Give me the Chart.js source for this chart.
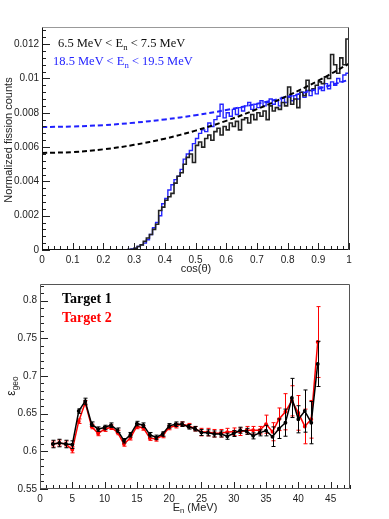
<!DOCTYPE html>
<html lang="en">
<head>
  <meta charset="UTF-8">
  <title>Fission angular distribution and geometric efficiency</title>
  <script src="https://cdn.jsdelivr.net/npm/chart.js"></script>
  <style>
    body {
      margin: 0;
      background: #fff;
      width: 389px;
      height: 519px;
      position: relative;
      overflow: hidden;
      font-family: 'Liberation Sans', Arial, sans-serif;
      color: #222;
    }
    .box { position: absolute; left: 0; width: 389px; }
    #topBox { top: 0; height: 275px; }
    #botBox { top: 275px; height: 244px; }
    .lbl { position: absolute; white-space: nowrap; line-height: 1; }
    .serif { font-family: 'Liberation Serif', 'Times New Roman', serif; }
    .rot { transform: translate(-50%, -50%) rotate(-90deg); }
    .ctr { transform: translate(-50%, -50%); }
    sub { font-size: 70%; vertical-align: -0.3em; line-height: 0; }
  </style>
</head>
<body>
  <div class="box" id="topBox"><canvas id="angleChart"></canvas></div>
  <div class="box" id="botBox"><canvas id="effChart"></canvas></div>

  <div class="lbl rot" style="left:8px; top:140px; font-size:11px;">Normalized fission counts</div>
  <div class="lbl ctr" style="left:196px; top:268px; font-size:11px;">cos(&theta;)</div>
  <div class="lbl serif" style="left:58px; top:37px; font-size:12.5px; color:#111;">6.5 MeV &lt; E<sub>n</sub> &lt; 7.5 MeV</div>
  <div class="lbl serif" style="left:53px; top:55px; font-size:12.5px; color:#2525ff;">18.5 MeV &lt; E<sub>n</sub> &lt; 19.5 MeV</div>

  <div class="lbl rot" style="left:11px; top:386px; font-size:12px;">&epsilon;<sub>geo</sub></div>
  <div class="lbl ctr" style="left:195px; top:507px; font-size:11px;">E<sub>n</sub> (MeV)</div>
  <div class="lbl serif" style="left:62px; top:292px; font-size:14px; font-weight:bold; color:#000;">Target 1</div>
  <div class="lbl serif" style="left:62px; top:311px; font-size:14px; font-weight:bold; color:#ff0000;">Target 2</div>

  <script>
    // ---- top panel: cos(theta) histograms, 100 bins of 0.01 ----
    const cosBinWidth = 0.01;
    const countsLowE = [
      0, 0, 0, 0, 0, 0, 0, 0, 0, 0,
      0, 0, 0, 0, 0, 0, 0, 0, 0, 0,
      0, 0, 0, 0, 0, 0, 0, 0, 0.00002, 0.00004,
      0.0001, 0.0002, 0.0003, 0.0005, 0.0007, 0.0009, 0.0012, 0.0015, 0.0023, 0.0025,
      0.0029, 0.0031, 0.0033, 0.0039, 0.0043, 0.0045, 0.0050, 0.0054, 0.0056, 0.0051,
      0.0061, 0.0063, 0.0060, 0.0065, 0.0067, 0.0064, 0.0069, 0.0071, 0.0067, 0.0072,
      0.0070, 0.0074, 0.0072, 0.0075, 0.0070, 0.0076, 0.0077, 0.0074, 0.0079, 0.0076,
      0.0080, 0.0078, 0.0081, 0.0076, 0.0084, 0.0081, 0.0083, 0.0082, 0.0086, 0.0084,
      0.0095, 0.0085, 0.0088, 0.0083, 0.0092, 0.0090, 0.0099, 0.0093, 0.0094, 0.0096,
      0.0098, 0.0097, 0.0101, 0.0100, 0.0114, 0.0108, 0.0103, 0.0112, 0.0108, 0.0123
    ];
    const countsHighE = [
      0, 0, 0, 0, 0, 0, 0, 0, 0, 0,
      0, 0, 0, 0, 0, 0, 0, 0, 0, 0,
      0, 0, 0, 0, 0, 0, 0, 0, 0.00003, 0.00006,
      0.0001, 0.0002, 0.0003, 0.0004, 0.0006, 0.0009, 0.0013, 0.0016, 0.0020, 0.0027,
      0.0030, 0.0035, 0.0038, 0.0041, 0.0043, 0.0047, 0.0053, 0.0056, 0.0058, 0.0062,
      0.0065, 0.0068, 0.0070, 0.0069, 0.0074, 0.0072, 0.0076, 0.0078, 0.0085, 0.0077,
      0.0080, 0.0078, 0.0082, 0.0079, 0.0083, 0.0081, 0.0084, 0.0086, 0.0082, 0.0085,
      0.0083, 0.0087, 0.0084, 0.0086, 0.0088, 0.0085, 0.0087, 0.0084, 0.0089, 0.0086,
      0.0089, 0.0087, 0.0090, 0.0088, 0.0092, 0.0089, 0.0093, 0.0090, 0.0094, 0.0091,
      0.0095, 0.0093, 0.0097, 0.0094, 0.0098, 0.0096, 0.0100, 0.0098, 0.0102, 0.0103
    ];
    // dashed fit curves, read at these cos(theta) values
    const fitCos = [0, 0.1, 0.2, 0.3, 0.4, 0.5, 0.6, 0.7, 0.8, 0.9, 1.0];
    const fitLowE = [0.00566, 0.00571, 0.00587, 0.00613, 0.00649, 0.00696, 0.00753, 0.00821, 0.00899, 0.00987, 0.01086];
    const fitHighE = [0.00717, 0.00720, 0.00728, 0.00742, 0.00761, 0.00786, 0.00816, 0.00852, 0.00893, 0.00940, 0.00992];
    const angleXTicks = [0, 0.1, 0.2, 0.3, 0.4, 0.5, 0.6, 0.7, 0.8, 0.9, 1];
    const angleYTicks = [0, 0.002, 0.004, 0.006, 0.008, 0.01, 0.012];

    // ---- bottom panel: geometric efficiency vs neutron energy ----
    const energies = [2, 3, 4, 5, 6, 7, 8, 9, 10, 11, 12, 13, 14, 15, 16, 17, 18, 19, 20, 21, 22,
                      23, 24, 25, 26, 27, 28, 29, 30, 31, 32, 33, 34, 35, 36, 37, 38, 39, 40, 41, 42, 43];
    const effTarget1 = [0.6097, 0.611, 0.6097, 0.6089, 0.6534, 0.6665, 0.636, 0.6294, 0.6316, 0.6347, 0.628,
                        0.614, 0.622, 0.6368, 0.6347, 0.622, 0.6185, 0.623, 0.6338, 0.636, 0.636,
                        0.6325, 0.630, 0.625, 0.6245, 0.623, 0.623, 0.620, 0.6237, 0.628, 0.6265,
                        0.6205, 0.6245, 0.6275, 0.6194, 0.630, 0.638, 0.6708, 0.6425, 0.6534, 0.638, 0.716];
    const errTarget1 = [0.005, 0.005, 0.005, 0.005, 0.003, 0.004, 0.003, 0.003, 0.003, 0.003, 0.003,
                        0.003, 0.003, 0.003, 0.003, 0.003, 0.003, 0.003, 0.003, 0.003, 0.003,
                        0.003, 0.003, 0.004, 0.004, 0.004, 0.004, 0.004, 0.004, 0.004, 0.004,
                        0.004, 0.004, 0.007, 0.013, 0.013, 0.018, 0.026, 0.018, 0.028, 0.028, 0.030];
    const effTarget2 = [0.6097, 0.611, 0.6097, 0.602, 0.640, 0.6643, 0.6329, 0.6237, 0.6294, 0.632, 0.625,
                        0.6098, 0.618, 0.633, 0.631, 0.6175, 0.6165, 0.621, 0.6316, 0.634, 0.636,
                        0.634, 0.630, 0.6255, 0.6255, 0.624, 0.624, 0.6255, 0.626, 0.626, 0.628,
                        0.628, 0.628, 0.636, 0.626, 0.6425, 0.6525, 0.667, 0.651, 0.633, 0.6425, 0.745];
    const errTarget2 = [0.004, 0.004, 0.004, 0.004, 0.003, 0.003, 0.003, 0.003, 0.003, 0.003, 0.003,
                        0.003, 0.003, 0.003, 0.003, 0.003, 0.003, 0.003, 0.003, 0.003, 0.003,
                        0.003, 0.003, 0.005, 0.005, 0.005, 0.005, 0.005, 0.005, 0.005, 0.005,
                        0.005, 0.005, 0.012, 0.012, 0.015, 0.024, 0.020, 0.023, 0.023, 0.025, 0.047];
    const effXTicks = [0, 5, 10, 15, 20, 25, 30, 35, 40, 45];
    const effYTicks = [0.55, 0.6, 0.65, 0.7, 0.75, 0.8];

    const tickFont = { family: "'Liberation Sans', Arial, sans-serif", size: 10 };
    const fmt = v => String(Number(v.toFixed(4)));

    // histogram as step line through bin centres, closed at both ends of the range
    function histPoints(counts) {
      const pts = [{ x: 0, y: counts[0] }];
      counts.forEach((c, i) => pts.push({ x: (i + 0.5) * cosBinWidth, y: c }));
      pts.push({ x: counts.length * cosBinWidth, y: counts[counts.length - 1] });
      return pts;
    }

    // ROOT-like frame with inward major/minor ticks
    const rootFrame = {
      id: 'rootFrame',
      afterDraw(chart, args, o) {
        const { ctx, chartArea: a, scales: { x, y } } = chart;
        ctx.save();
        ctx.lineWidth = 1;
        ctx.strokeStyle = '#222';
        ctx.beginPath();
        const nx = Math.floor((x.max - x.min) / o.xMinor + 1e-6);
        for (let i = 0; i <= nx; i++) {
          const px = Math.round(x.getPixelForValue(x.min + i * o.xMinor)) + 0.5;
          const len = i % o.ratio === 0 ? 7 : 4;
          ctx.moveTo(px, a.bottom);
          ctx.lineTo(px, a.bottom - len);
        }
        const ny = Math.floor((y.max - y.min) / o.yMinor + 1e-6);
        for (let i = 0; i <= ny; i++) {
          const py = Math.round(y.getPixelForValue(y.min + i * o.yMinor)) + 0.5;
          const len = i % o.ratio === 0 ? 8 : 4;
          ctx.moveTo(a.left, py);
          ctx.lineTo(a.left + len, py);
        }
        ctx.stroke();
        const l = Math.round(a.left) + 0.5, r = Math.round(a.right) - 0.5;
        const t = Math.round(a.top) + 0.5, b = Math.round(a.bottom) - 0.5;
        ctx.strokeStyle = o.topColor;
        ctx.beginPath(); ctx.moveTo(l, t); ctx.lineTo(r, t); ctx.stroke();
        ctx.strokeStyle = o.rightColor;
        ctx.beginPath(); ctx.moveTo(r, t); ctx.lineTo(r, b); ctx.stroke();
        ctx.strokeStyle = o.axisColor;
        ctx.beginPath(); ctx.moveTo(l, t); ctx.lineTo(l, b); ctx.lineTo(r, b); ctx.stroke();
        ctx.restore();
      }
    };

    // vertical error bars with small end caps
    const errorBars = {
      id: 'errorBars',
      afterDatasetDraw(chart, args) {
        const ds = chart.data.datasets[args.index];
        if (!ds.errors) return;
        const { ctx, scales: { y } } = chart;
        ctx.save();
        ctx.strokeStyle = ds.borderColor;
        ctx.lineWidth = 1;
        ctx.beginPath();
        args.meta.data.forEach((pt, j) => {
          const v = ds.data[j].y, e = ds.errors[j];
          const y1 = y.getPixelForValue(v - e), y2 = y.getPixelForValue(v + e);
          const px = Math.round(pt.x) + 0.5;
          ctx.moveTo(px, y1); ctx.lineTo(px, y2);
          ctx.moveTo(px - 2, y1); ctx.lineTo(px + 2, y1);
          ctx.moveTo(px - 2, y2); ctx.lineTo(px + 2, y2);
        });
        ctx.stroke();
        ctx.restore();
      }
    };

    function axis(min, max, ticks, size, isY) {
      return {
        type: 'linear', min: min, max: max,
        grid: { display: false, drawTicks: false },
        border: { display: false },
        afterBuildTicks: s => { s.ticks = ticks.map(v => ({ value: v })); },
        afterFit: s => { if (isY) s.width = size; else s.height = size; },
        ticks: { color: '#222', font: tickFont, padding: isY ? 3 : 4, maxRotation: 0, autoSkip: false,
                 callback: v => fmt(v) }
      };
    }

    new Chart(document.getElementById('angleChart'), {
      type: 'line',
      data: {
        datasets: [
          { data: fitLowE.map((v, i) => ({ x: fitCos[i], y: v })), borderColor: '#000', borderWidth: 2,
            borderDash: [5, 3], pointRadius: 0, tension: 0.4 },
          { data: fitHighE.map((v, i) => ({ x: fitCos[i], y: v })), borderColor: '#2020ff', borderWidth: 2,
            borderDash: [5, 3], pointRadius: 0, tension: 0.4 },
          { data: histPoints(countsLowE), borderColor: '#222', borderWidth: 1.6, pointRadius: 0, stepped: 'middle' },
          { data: histPoints(countsHighE), borderColor: '#2525ff', borderWidth: 1.4, pointRadius: 0, stepped: 'middle' }
        ]
      },
      options: {
        responsive: true, maintainAspectRatio: false, animation: false,
        layout: { padding: { top: 27, right: 40, left: 0, bottom: 0 } },
        scales: {
          x: axis(0, 1, angleXTicks, 25, false),
          y: axis(0, 0.013, angleYTicks, 42, true)
        },
        plugins: {
          legend: { display: false }, tooltip: { enabled: false },
          rootFrame: { xMinor: 0.02, yMinor: 0.0004, ratio: 5, axisColor: '#111', topColor: '#999', rightColor: '#333' }
        }
      },
      plugins: [rootFrame]
    });

    new Chart(document.getElementById('effChart'), {
      type: 'line',
      data: {
        datasets: [
          { data: energies.map((e, i) => ({ x: e, y: effTarget1[i] })), errors: errTarget1,
            borderColor: '#000', backgroundColor: '#000', borderWidth: 1.5, pointRadius: 1.2, tension: 0 },
          { data: energies.map((e, i) => ({ x: e, y: effTarget2[i] })), errors: errTarget2,
            borderColor: '#ff0000', backgroundColor: '#ff0000', borderWidth: 1.5, pointRadius: 1.2, tension: 0 }
        ]
      },
      options: {
        responsive: true, maintainAspectRatio: false, animation: false,
        layout: { padding: { top: 5, right: 39, left: 0, bottom: 0 } },
        scales: {
          x: axis(0, 48, effXTicks, 30, false),
          y: axis(0.55, 0.822, effYTicks, 40, true)
        },
        plugins: {
          legend: { display: false }, tooltip: { enabled: false },
          rootFrame: { xMinor: 1, yMinor: 0.01, ratio: 5, axisColor: '#555', topColor: '#555', rightColor: '#555' }
        }
      },
      plugins: [rootFrame, errorBars]
    });
  </script>
</body>
</html>
